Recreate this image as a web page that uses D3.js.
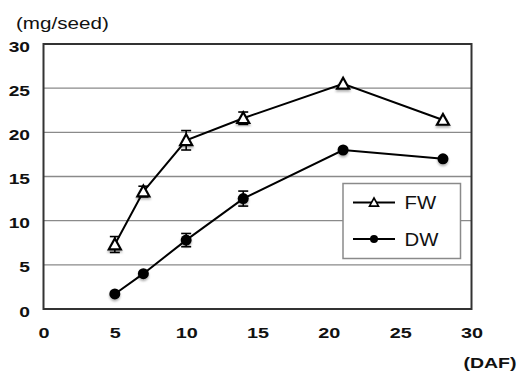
<!DOCTYPE html>
<html>
<head>
<meta charset="utf-8">
<script src="https://cdn.jsdelivr.net/npm/d3@7"></script>
<style>
  html, body { margin: 0; padding: 0; background: #fff; }
  svg { display: block; font-family: "Liberation Sans", Arial, sans-serif; }
</style>
</head>
<body>
<svg id="chart" width="518" height="372"></svg>
<script>
// Days after flowering
const days = [5, 7, 10, 14, 21, 28];
// Fresh weight (mg/seed) and its error
const fwMean = [7.3, 13.3, 19.1, 21.6, 25.5, 21.4];
const fwErr  = [0.9, 0.6, 1.1, 0.7, 0.3, 0.3];
// Dry weight (mg/seed) and its error
const dwMean = [1.7, 4.0, 7.8, 12.5, 18.0, 17.0];
const dwErr  = [0.2, 0.2, 0.75, 0.85, 0.2, 0.15];

const xTicks = [0, 5, 10, 15, 20, 25, 30];
const yTicks = [0, 5, 10, 15, 20, 25, 30];
const seriesNames = ["FW", "DW"];

const svg = d3.select("#chart");
const plot = { left: 43.5, right: 471.5, top: 44, bottom: 309 };
const FONT = "Liberation Sans, Arial, sans-serif";
const WIDE = 1.28; // horizontal stretch of the lettering

const x = d3.scaleLinear().domain([0, 30]).range([plot.left, plot.right]);
const y = d3.scaleLinear().domain([0, 30]).range([plot.bottom, plot.top]);

// soft shadow under the markers
const defs = svg.append("defs");
const f = defs.append("filter").attr("id", "shadow")
  .attr("x", "-50%").attr("y", "-50%").attr("width", "200%").attr("height", "200%");
f.append("feDropShadow").attr("dx", 0).attr("dy", 2).attr("stdDeviation", 1.3)
  .attr("flood-color", "#000").attr("flood-opacity", 0.3);

// horizontal gridlines
svg.append("g")
  .selectAll("line")
  .data(yTicks.filter(t => t > 0 && t < 30))
  .join("line")
  .attr("x1", plot.left).attr("x2", plot.right)
  .attr("y1", d => y(d)).attr("y2", d => y(d))
  .attr("stroke", "#8a8a8a").attr("stroke-width", 1.3);

// y axis
const yAxis = svg.append("g")
  .attr("transform", `translate(${plot.left},0)`)
  .call(d3.axisLeft(y).tickValues(yTicks).tickSize(0));
yAxis.select(".domain").remove();
yAxis.selectAll("text")
  .attr("x", 0).attr("dy", null).attr("y", 0)
  .attr("transform", `translate(-13.5,7) scale(${WIDE},1)`)
  .attr("font-size", 15).attr("font-weight", "bold").attr("fill", "#111")
  .attr("font-family", FONT);

// x axis
const xAxis = svg.append("g")
  .attr("transform", `translate(0,${plot.bottom})`)
  .call(d3.axisBottom(x).tickValues(xTicks).tickSize(0));
xAxis.select(".domain").remove();
xAxis.selectAll("text")
  .attr("y", 0).attr("dy", null)
  .attr("transform", `translate(0,29) scale(${WIDE},1)`)
  .attr("font-size", 15.5).attr("font-weight", "bold").attr("fill", "#111")
  .attr("font-family", FONT);

// plot frame
svg.append("rect")
  .attr("x", plot.left).attr("y", plot.top)
  .attr("width", plot.right - plot.left).attr("height", plot.bottom - plot.top)
  .attr("fill", "none").attr("stroke", "#333").attr("stroke-width", 2);

// axis titles
svg.append("text")
  .attr("transform", `translate(16,29) scale(1.25,1)`)
  .attr("font-size", 16.5).attr("fill", "#111").text("(mg/seed)");
svg.append("text")
  .attr("transform", `translate(516.5,368) scale(1.3,1)`)
  .attr("text-anchor", "end")
  .attr("font-size", 15).attr("font-weight", "bold").attr("fill", "#111").text("(DAF)");

const line = d3.line().x(d => x(d.day)).y(d => y(d.v));

function drawSeries(means, errs, kind) {
  const pts = days.map((d, i) => ({ day: d, v: means[i], e: errs[i] }));
  const g = svg.append("g");
  g.append("path").datum(pts).attr("d", line)
    .attr("fill", "none").attr("stroke", "#000").attr("stroke-width", 2);

  // error bars
  const eb = g.append("g").attr("stroke", "#000").attr("stroke-width", 1.6);
  pts.forEach(p => {
    if (p.e < 0.35) return;
    const cx = x(p.day);
    eb.append("line").attr("x1", cx).attr("x2", cx)
      .attr("y1", y(p.v + p.e)).attr("y2", y(p.v - p.e));
    [p.v + p.e, p.v - p.e].forEach(v => {
      eb.append("line").attr("x1", cx - 5).attr("x2", cx + 5)
        .attr("y1", y(v)).attr("y2", y(v));
    });
  });

  // markers
  const mk = g.append("g").attr("filter", "url(#shadow)");
  pts.forEach(p => {
    const cx = x(p.day), cy = y(p.v);
    if (kind === "triangle") {
      const s = 6;
      mk.append("path")
        .attr("d", `M${cx},${cy - s} L${cx + s},${cy + s * 0.8} L${cx - s},${cy + s * 0.8} Z`)
        .attr("fill", "#fff").attr("stroke", "#000").attr("stroke-width", 2.2);
    } else {
      mk.append("circle").attr("cx", cx).attr("cy", cy).attr("r", 5.5)
        .attr("fill", "#000");
    }
  });
}

drawSeries(fwMean, fwErr, "triangle");
drawSeries(dwMean, dwErr, "circle");

// legend
const lg = svg.append("g");
lg.append("rect").attr("x", 343).attr("y", 183.5).attr("width", 117.5).attr("height", 75)
  .attr("fill", "#fff").attr("stroke", "#8a8a8a").attr("stroke-width", 1.5);
seriesNames.forEach((name, i) => {
  const ly = 202.5 + i * 36.5;
  lg.append("line").attr("x1", 353).attr("x2", 395).attr("y1", ly).attr("y2", ly)
    .attr("stroke", "#000").attr("stroke-width", 2);
  if (i === 0) {
    const s = 4.5;
    lg.append("path")
      .attr("d", `M374,${ly - s} L${374 + s},${ly + s * 0.8} L${374 - s},${ly + s * 0.8} Z`)
      .attr("fill", "#fff").attr("stroke", "#000").attr("stroke-width", 1.6);
  } else {
    lg.append("circle").attr("cx", 374).attr("cy", ly).attr("r", 4).attr("fill", "#000");
  }
  lg.append("text")
    .attr("transform", `translate(404.5,${ly + 6.5}) scale(1.13,1)`)
    .attr("font-size", 18).attr("fill", "#111").text(name);
});
</script>
</body>
</html>
